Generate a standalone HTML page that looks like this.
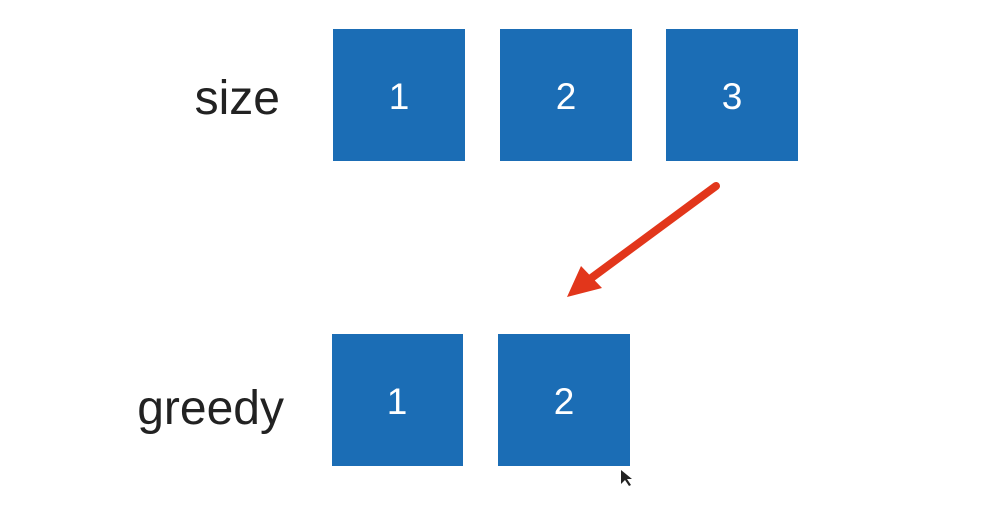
<!DOCTYPE html>
<html><head><style>
body{margin:0;background:#fff;width:991px;height:504px;overflow:hidden;font-family:"Liberation Sans",sans-serif}
</style></head><body>
<svg width="991" height="504">
<text x="280" y="114" font-size="48" text-anchor="end" fill="#222">size</text>
<text x="284" y="424" font-size="48" text-anchor="end" fill="#222">greedy</text>
<g fill="#1b6db5">
<rect x="333" y="29" width="132" height="132"/>
<rect x="500" y="29" width="132" height="132"/>
<rect x="666" y="29" width="132" height="132"/>
<rect x="332" y="334" width="131" height="132"/>
<rect x="498" y="334" width="132" height="132"/>
</g>
<g fill="#fff" font-size="37" text-anchor="middle">
<text x="399" y="109">1</text><text x="566" y="109">2</text><text x="732" y="109">3</text>
<text x="397" y="414">1</text><text x="564" y="414">2</text>
</g>
<g>
<line x1="716" y1="186" x2="590" y2="279" stroke="#e2361b" stroke-width="8" stroke-linecap="round"/>
<polygon points="567,297 581,266 602,288" fill="#e2361b"/>
</g>
<polygon points="621,470 621,484 625,480 629,486 631,485 627,479 632,479" fill="#222"/>
</svg>
</body></html>
